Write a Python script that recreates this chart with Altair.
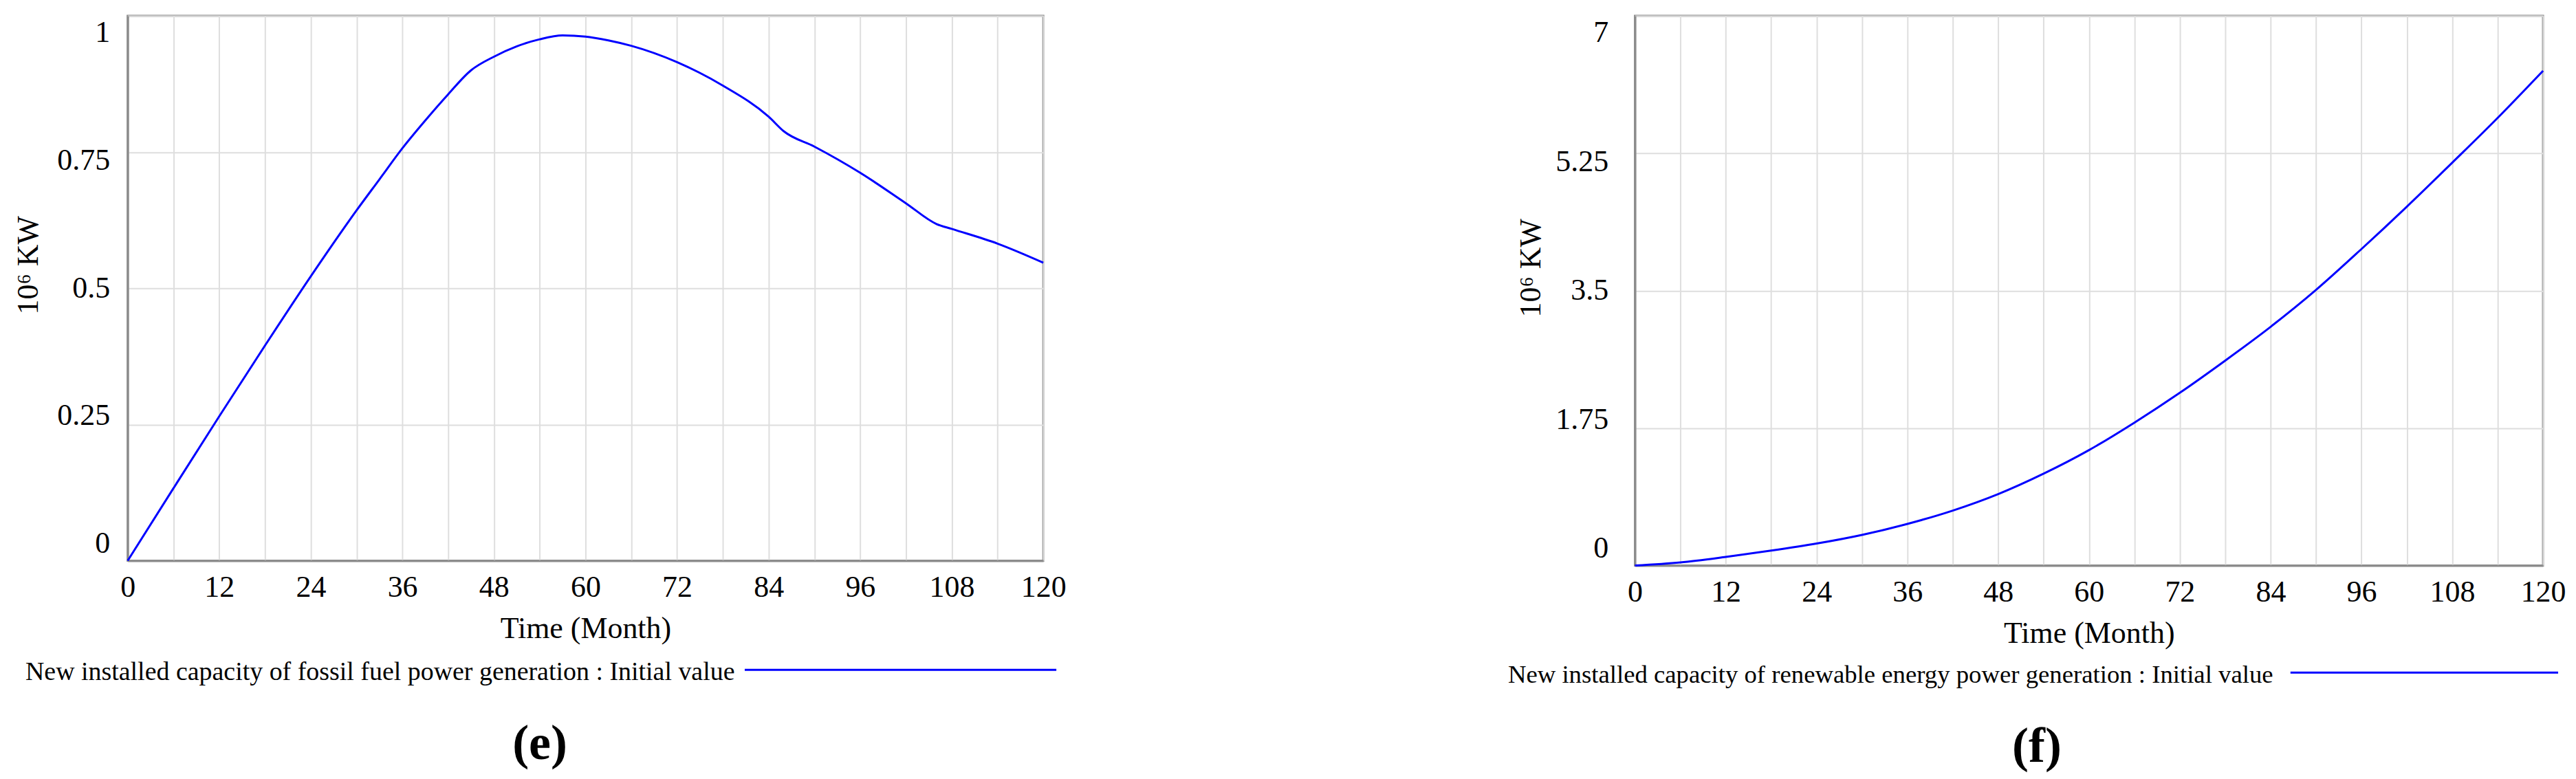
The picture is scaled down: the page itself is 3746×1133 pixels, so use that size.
import altair as alt
import pandas as pd

FONT = "Liberation Serif"
BLUE = "#0000ff"

# ---- data ----
months_e = [0, 6, 12, 18, 24, 30, 33, 36, 39, 42, 45, 48, 51, 54, 57, 60, 63, 66, 72, 78, 84,
            86, 90, 96, 102, 106, 108, 114, 120]
fossil = [0.0, 0.133, 0.265, 0.395, 0.522, 0.643, 0.700, 0.757, 0.808, 0.856, 0.90, 0.925,
          0.944, 0.957, 0.964, 0.962, 0.955, 0.945, 0.915, 0.872, 0.815, 0.788, 0.760, 0.712,
          0.656, 0.618, 0.609, 0.582, 0.547]

months_f = [0, 6, 12, 18, 24, 30, 36, 42, 48, 54, 60, 66, 72, 78, 84, 90, 96, 102, 108, 114, 120]
renew = [0.0, 0.04, 0.11, 0.19, 0.28, 0.39, 0.53, 0.70, 0.91, 1.17, 1.47, 1.82, 2.20, 2.61,
         3.04, 3.51, 4.03, 4.57, 5.13, 5.70, 6.30]

x_ticks = list(range(0, 121, 6))
y_ticks_e = [0, 0.25, 0.5, 0.75, 1]
y_ticks_f = [0, 1.75, 3.5, 5.25, 7]

legend_e = "New installed capacity of fossil fuel power generation : Initial value"
legend_f = "New installed capacity of renewable energy power generation : Initial value"


def label_offsets(vals, inset=25):
    n = len(vals) - 1
    conds = []
    for i, v in enumerate(vals):
        o = -inset + 2 * inset * i / n
        conds.append({"test": f"abs(datum.value - {v}) < 1e-6", "value": o})
    return {"condition": conds, "value": 0}


def panel(months, values, ymax, yticks, legend_text, tag, width, height,
          label_pad, title_x, title_y, leg_text_x, leg_font, leg_line_x1, leg_line_x2, leg_y):
    df = pd.DataFrame({"t": months, "v": values})
    line = alt.Chart(df).mark_line(color=BLUE, strokeWidth=3, interpolate="monotone").encode(
        x=alt.X("t:Q", scale=alt.Scale(domain=[0, 120], nice=False),
                axis=alt.Axis(values=x_ticks,
                              labelExpr="datum.value % 12 == 0 ? datum.label : ''",
                              title="Time (Month)", labelFlush=False, labelOverlap=False,
                              ticks=False, labelPadding=17, titlePadding=16)),
        y=alt.Y("v:Q", scale=alt.Scale(domain=[0, ymax], nice=False),
                axis=alt.Axis(values=yticks, format=".2~f", title="10\u2076 KW",
                              ticks=False, labelPadding=label_pad,
                              labelOffset=label_offsets(yticks),
                              titleX=title_x, titleY=title_y, titleBaseline="alphabetic",
                              titleAngle=270, titleAlign="center")),
    )
    txt = alt.Chart(pd.DataFrame({"label": [legend_text]})).mark_text(
        align="left", baseline="alphabetic", font=FONT, fontSize=leg_font, color="black"
    ).encode(x=alt.value(leg_text_x), y=alt.value(leg_y), text="label:N")
    rule = alt.Chart(pd.DataFrame({"label": [legend_text]})).mark_rule(
        color=BLUE, strokeWidth=3
    ).encode(x=alt.value(leg_line_x1), x2=alt.value(leg_line_x2), y=alt.value(leg_y - 15))
    return alt.layer(line, txt, rule).properties(
        width=width, height=height,
        title=alt.TitleParams(tag, orient="bottom", anchor="middle", frame="bounds",
                              font=FONT, fontSize=72, fontWeight="bold", offset=50,
                              color="black"),
    )


left = panel(months_e, fossil, 1, y_ticks_e, legend_e, "(e)", 1334, 794,
             26, -131, 363, -149, 38, 899, 1353, 968)
right = panel(months_f, renew, 7, y_ticks_f, legend_f, "(f)", 1323, 801,
              39, -138, 367, -185, 36.8, 955, 1345, 972)

chart = alt.hconcat(left, right, spacing=640).properties(
    padding={"left": 10, "top": 12, "right": 5, "bottom": 5}
).configure(font=FONT).configure_view(
    stroke="#8c8c8c", strokeWidth=3
).configure_axis(
    labelFont=FONT, titleFont=FONT, labelFontSize=44, titleFontSize=44,
    labelColor="black", titleColor="black", titleFontWeight="normal",
    domainColor="#8c8c8c", domainWidth=3,
    gridColor="#dedede", gridWidth=2,
)

chart.save("out.html", embed_options={"renderer": "svg", "actions": False})
